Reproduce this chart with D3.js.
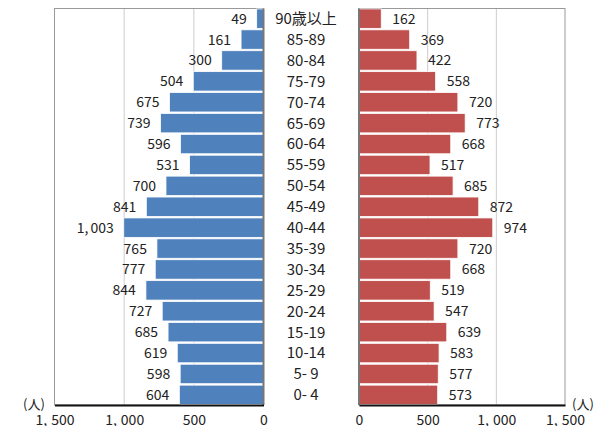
<!DOCTYPE html>
<html>
<head>
<meta charset="utf-8">
<script src="https://cdn.jsdelivr.net/npm/d3@7"></script>
<style>
  body { margin: 0; background: #fff; }
  svg text { font-family: "Noto Sans CJK JP", "Noto Sans", sans-serif; fill: #222; }
</style>
</head>
<body>
<div id="chart"></div>
<script>
// age groups, top to bottom
var ages = ["90歳以上", "85-89", "80-84", "75-79", "70-74", "65-69", "60-64", "55-59", "50-54",
  "45-49", "40-44", "35-39", "30-34", "25-29", "20-24", "15-19", "10-14", "5- 9", "0- 4"];
var male = [49, 161, 300, 504, 675, 739, 596, 531, 700, 841, 1003, 765, 777, 844, 727, 685, 619, 598, 604];
var female = [162, 369, 422, 558, 720, 773, 668, 517, 685, 872, 974, 720, 668, 519, 547, 639, 583, 577, 573];
var ticks = [0, 500, 1000, 1500];

var w = 605, h = 426;
var top_y = 8.5, bottom_y = 405;

var svg = d3.select("#chart").append("svg")
  .attr("width", w)
  .attr("height", h);

var xL = d3.scaleLinear().domain([0, 1500]).range([263.5, 54.5]);
var xR = d3.scaleLinear().domain([0, 1500]).range([359, 565]);
var y = d3.scaleBand().domain(ages).range([top_y, bottom_y]).paddingInner(0.07).paddingOuter(0.02);

var fmt = d3.format(",");

// put a little extra room after the comma, like the japanese font does
function comma_text(sel, gap) {
  sel.each(function(d) {
    var s = fmt(d);
    var t = d3.select(this).text(null);
    var parts = s.split(",");
    if (parts.length == 1) { t.text(s); return; }
    t.append("tspan").text(parts[0] + ",");
    t.append("tspan").attr("dx", gap).text(parts[1]);
  });
}

function panel(x, data, col, side) {
  var g = svg.append("g");
  // frame
  g.append("rect")
    .attr("x", Math.min(x(0), x(1500)))
    .attr("y", top_y)
    .attr("width", Math.abs(x(1500) - x(0)))
    .attr("height", bottom_y - top_y)
    .attr("fill", "none")
    .attr("stroke", "#999")
    .attr("stroke-width", 1);
  // gridlines
  g.selectAll(".grid").data([500, 1000]).enter().append("line")
    .attr("x1", d => x(d)).attr("x2", d => x(d))
    .attr("y1", top_y).attr("y2", bottom_y)
    .attr("stroke", "#999")
    .attr("stroke-dasharray", "1,1");
  // bars
  g.selectAll(".bar").data(data).enter().append("rect")
    .attr("x", d => Math.min(x(0), x(d)))
    .attr("y", (d, i) => y(ages[i]))
    .attr("width", d => Math.abs(x(d) - x(0)))
    .attr("height", y.bandwidth())
    .attr("fill", col)
    .attr("stroke", "#fff")
    .attr("stroke-width", 0.8);
  // value labels
  g.selectAll(".lbl").data(data).enter().append("text")
    .attr("x", d => side < 0 ? x(d) - 10 : x(d) + 11)
    .attr("y", (d, i) => y(ages[i]) + y.bandwidth() / 2)
    .attr("dy", "0.36em")
    .attr("text-anchor", side < 0 ? "end" : "start")
    .style("font-size", "14px")
    .call(comma_text, 2);
  // zero line + bottom axis
  g.append("line")
    .attr("x1", x(0)).attr("x2", x(0))
    .attr("y1", top_y).attr("y2", bottom_y)
    .attr("stroke", "#777").attr("stroke-width", 2);
  var axis = d3.axisBottom(x).tickValues(ticks).tickSize(0).tickPadding(0);
  var ax = g.append("g")
    .attr("transform", "translate(0," + bottom_y + ")")
    .call(axis);
  ax.select(".domain").attr("stroke", "#111").attr("stroke-width", 2);
  ax.selectAll("text")
    .attr("y", 20)
    .attr("dy", 0)
    .style("font-size", "14px")
    .attr("fill", "#222")
    .call(comma_text, 4);
}

panel(xL, male, "#4f81bd", -1);
panel(xR, female, "#c0504d", 1);

// age labels in the middle
svg.selectAll(".age").data(ages).enter().append("text")
  .attr("x", 306)
  .attr("y", d => y(d) + y.bandwidth() / 2)
  .attr("dy", "0.36em")
  .attr("text-anchor", "middle")
  .style("font-size", "15px")
  .text(d => d);

// unit labels
svg.append("text").attr("x", 34).attr("y", 408.5).attr("text-anchor", "middle")
  .style("font-size", "13px").text("(人)");
svg.append("text").attr("x", 583).attr("y", 408.5).attr("text-anchor", "middle")
  .style("font-size", "13px").text("(人)");
</script>
</body>
</html>
